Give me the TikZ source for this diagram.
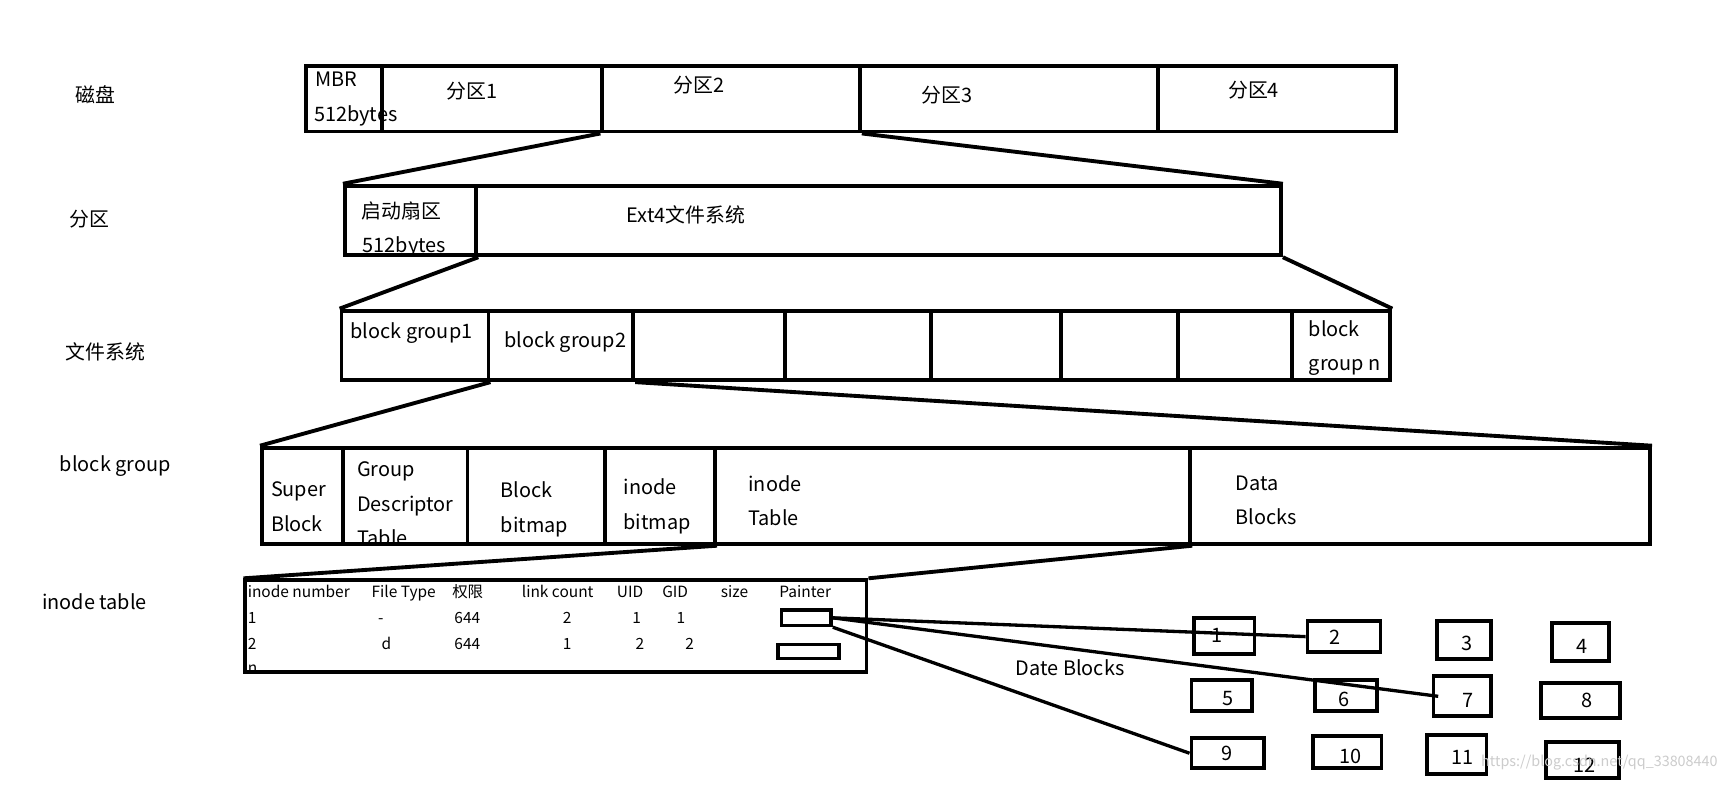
\documentclass[tikz,border=0pt]{standalone}
\usepackage{fontspec}
\setmainfont{Noto Sans CJK SC}
\usetikzlibrary{fit}
\tikzset{
  cell/.style={draw, line width=3.5pt, inner sep=0pt},
  pbox/.style={draw, line width=3pt, inner sep=0pt},
  lbl/.style={anchor=west, inner sep=0pt, font=\fontsize{18}{20}\selectfont, text height=13pt, text depth=4pt},
  sml/.style={anchor=west, inner sep=0pt, font=\fontsize{14}{16}\selectfont, text height=10pt, text depth=3pt},
  num/.style={inner sep=0pt, font=\fontsize{18}{20}\selectfont},
  zoomline/.style={line width=3.5pt},
  ptr/.style={line width=3pt}
}
\begin{document}
\begin{tikzpicture}[x=1pt,y=-1pt]
\fill[white] (0,0) rectangle (1568,710);
\useasboundingbox (0,0) rectangle (1568,710);

% ---------- row labels ----------
\node[lbl] (l1) at (68,88) {磁盘};
\node[lbl] (l2) at (63,200) {分区};
\node[lbl] (l3) at (59,321) {文件系统};
\node[lbl] (l4) at (54,422) {block group};
\node[lbl] (l5) at (38,547) {inode table};

% ---------- texts ----------
\node[lbl] (tmbr) at (285,74) {MBR};
\node[lbl] (tmbr2) at (284,105) {512bytes};
\node[lbl] (tp1) at (404,85) {分区1};
\node[lbl] (tp2) at (609,79) {分区2};
\node[lbl] (tp3) at (834,88) {分区3};
\node[lbl] (tp4) at (1111,84) {分区4};

\node[lbl] (tboot) at (327,193) {启动扇区};
\node[lbl] (tboot2) at (328,224) {512bytes};
\node[lbl] (text4) at (567,197) {Ext4文件系统};

\node[lbl] (tbg1) at (317,302) {block group1};
\node[lbl] (tbg2) at (456,310) {block group2};
\node[lbl] (tbgn) at (1184,300) {block};
\node[lbl] (tbgn2) at (1184,331) {group n};

\node[lbl] (tsb) at (245,445) {Super};
\node[lbl] (tsb2) at (245,476) {Block};
\node[lbl] (tgd) at (323,427) {Group};
\node[lbl] (tgd2) at (323,458) {Descriptor};
\node[lbl] (tgd3) at (323,489) {Table};
\node[lbl] (tbb) at (453,446) {Block};
\node[lbl] (tbb2) at (453,477) {bitmap};
\node[lbl] (tib) at (564,443) {inode};
\node[lbl] (tib2) at (564,475) {bitmap};
\node[lbl] (tit) at (677,440) {inode};
\node[lbl] (tit2) at (677,471) {Table};
\node[lbl] (tdb) at (1118,439) {Data};
\node[lbl] (tdb2) at (1118,470) {Blocks};

% inode table texts
\node[sml] (h1) at (224,537) {inode number};
\node[sml] (h2) at (336,537) {File Type};
\node[sml] (h3) at (409,537) {权限};
\node[sml] (h4) at (472,537) {link count};
\node[sml] (h5) at (558,537) {UID};
\node[sml] (h6) at (599,537) {GID};
\node[sml] (h7) at (652,537) {size};
\node[sml] (h8) at (705,537) {Painter};
\node[sml] (r11) at (224,561) {1};
\node[sml] (r12) at (342,561) {-};
\node[sml] (r13) at (411,561) {644};
\node[sml] (r14) at (509,561) {2};
\node[sml] (r15) at (572,561) {1};
\node[sml] (r16) at (612,561) {1};
\node[sml] (r21) at (224,584) {2};
\node[sml] (r22) at (345,584) {d};
\node[sml] (r23) at (411,584) {644};
\node[sml] (r24) at (509,584) {1};
\node[sml] (r25) at (575,584) {2};
\node[sml] (r26) at (620,584) {2};
\node[sml] (rn) at (224,606) {n};

\node[lbl] (tdate) at (919,607) {Date Blocks};

% data block numbers
\node[num] (n1) at (1101,575) {1};
\node[num] (n2) at (1208,577) {2};
\node[num] (n3) at (1327,582) {3};
\node[num] (n4) at (1431,585) {4};
\node[num] (n5) at (1111,632) {5};
\node[num] (n6) at (1216,633) {6};
\node[num] (n7) at (1328,634) {7};
\node[num] (n8) at (1436,634) {8};
\node[num] (n9) at (1110,682) {9};
\node[num] (n10) at (1222,684) {10};
\node[num] (n11) at (1323,685) {11};
\node[num] (n12) at (1434,692) {12};

% ---------- cells ----------
\node[cell, fit={(277,60)(346,119)}] (mbr) {};
\node[cell, fit={(346,60)(545,119)}] (p1) {};
\node[cell, fit={(545,60)(778,119)}] (p2) {};
\node[cell, fit={(778,60)(1048,119)}] (p3) {};
\node[cell, fit={(1048,60)(1263,119)}] (p4) {};

\node[cell, fit={(312,168)(431,231)}] (boot) {};
\node[cell, fit={(431,168)(1159,231)}] (ext4) {};

\node[cell, fit={(309,281)(442,344)}] (bg1) {};
\node[cell, fit={(442,281)(573,344)}] (bg2) {};
\node[cell, fit={(573,281)(710,344)}] (bg3) {};
\node[cell, fit={(710,281)(842,344)}] (bg4) {};
\node[cell, fit={(842,281)(960,344)}] (bg5) {};
\node[cell, fit={(960,281)(1066,344)}] (bg6) {};
\node[cell, fit={(1066,281)(1169,344)}] (bg7) {};
\node[cell, fit={(1169,281)(1258,344)}] (bgn) {};

\node[cell, fit={(237,405)(310,492)}] (sb) {};
\node[cell, fit={(310,405)(423,492)}] (gdt) {};
\node[cell, fit={(423,405)(547,492)}] (bb) {};
\node[cell, fit={(547,405)(647,492)}] (ibm) {};
\node[cell, fit={(647,405)(1077,492)}] (it) {};
\node[cell, fit={(1077,405)(1493,492)}] (db) {};

\node[cell, fit={(222,525)(784,608)}] (itab) {};
\node[pbox, fit={(707,552)(752,566)}] (ptr1) {};
\node[pbox, fit={(704,583)(759,596)}] (ptr2) {};

\node[cell, fit={(1080,559)(1135,592)}] (b1) {};
\node[cell, fit={(1183,562)(1249,590)}] (b2) {};
\node[cell, fit={(1300,562)(1349,596)}] (b3) {};
\node[cell, fit={(1404,564)(1456,598)}] (b4) {};
\node[cell, fit={(1078,615)(1133,643)}] (b5) {};
\node[cell, fit={(1190,615)(1246,643)}] (b6) {};
\node[cell, fit={(1297,612)(1349,648)}] (b7) {};
\node[cell, fit={(1394,618)(1466,650)}] (b8) {};
\node[cell, fit={(1078,668)(1144,695)}] (b9) {};
\node[cell, fit={(1188,666)(1250,695)}] (b10) {};
\node[cell, fit={(1291,665)(1345,700)}] (b11) {};
\node[cell, fit={(1399,671)(1465,704)}] (b12) {};

% ---------- connectors ----------
\draw[zoomline] (p2.south west) -- (boot.north west);
\draw[zoomline] (p2.south east) -- (ext4.north east);
\draw[zoomline] (boot.south east) -- (bg1.north west);
\draw[zoomline] (ext4.south east) -- (bgn.north east);
\draw[zoomline] (bg1.south east) -- (sb.north west);
\draw[zoomline] (bg2.south east) -- (db.north east);
\draw[zoomline] (ibm.south east) -- (itab.north west);
\draw[zoomline] (it.south east) -- (itab.north east);

\draw[ptr] (ptr1.east) -- (b2.west);
\draw[ptr] (ptr1.east) -- ([xshift=6pt]b7.west);
\draw[ptr] (ptr1.south east) -- (b9.west);

% watermark
\node[anchor=west, inner sep=0pt, text=gray!40, font=\fontsize{13}{15}\selectfont] (wm) at (1340,690) {https://blog.csdn.net/qq\_33808440};
\end{tikzpicture}
\end{document}
